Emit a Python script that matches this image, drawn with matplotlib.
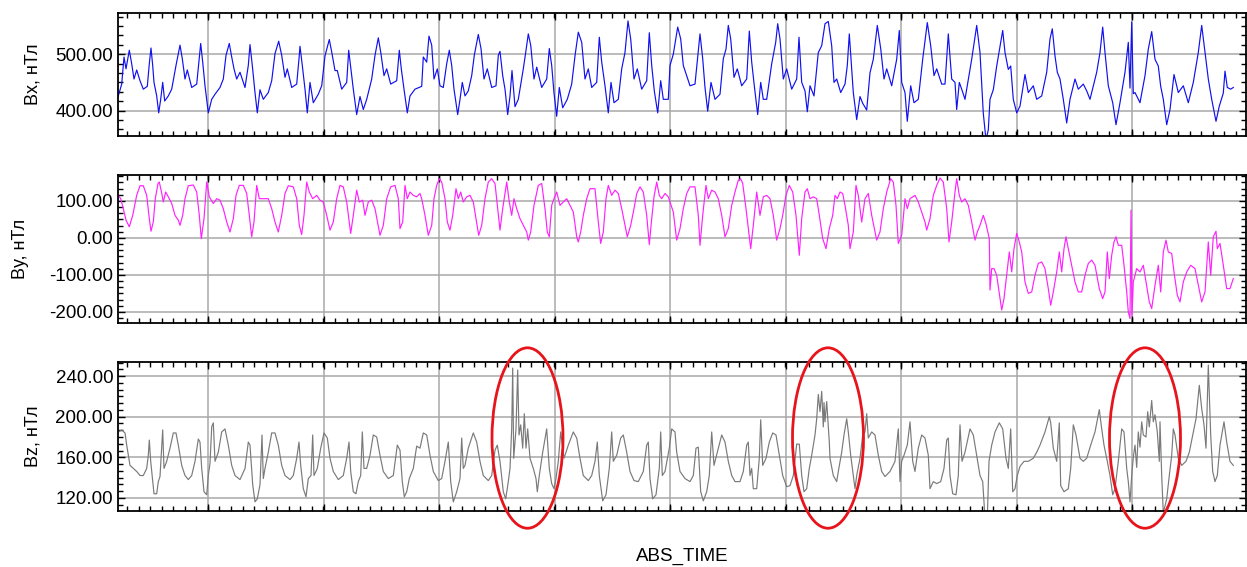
import numpy as np
import matplotlib
matplotlib.use("Agg")
import matplotlib.pyplot as plt
from matplotlib.patches import Ellipse
from matplotlib.ticker import FixedLocator, MultipleLocator, AutoMinorLocator, FormatStrFormatter, NullFormatter

plt.rcParams['font.family'] = ['Liberation Sans', 'DejaVu Sans']
plt.rcParams['axes.unicode_minus'] = False

# ABS_TIME in arbitrary units (no labels on the time axis)
bx_t = [118.3, 121.7, 124, 126, 129.3, 131.7, 134, 136.7, 140, 143.3, 147.3, 149.3, 151, 152.7, 154, 156.7,
        158.7, 160.7, 162.7, 164.7, 168.3, 171.7, 176, 177.7, 180, 182.3, 185, 187.3, 191.7, 196.7, 199,
        200.7, 202.7, 205, 208.3, 211.7, 215, 220, 223.3, 226, 229.3, 231.7, 234, 236.7, 240, 245, 248.3,
        250, 252.3, 255, 257.3, 260, 263.3, 268.3, 271.7, 275, 278.7, 281.7, 285, 287.3, 291.7, 296.7, 299,
        300, 302.3, 305, 307.3, 310, 313.3, 318.3, 321.7, 325, 329.3, 331.7, 335, 337.3, 341.7, 346.7,
        348.7, 350.7, 353.3, 356.7, 360, 363.3, 366.7, 371.7, 375, 378.3, 380.7, 384, 386.7, 390.7, 396.7,
        399.3, 401.3, 404, 407.3, 410, 415, 421.7, 423.3, 426.7, 429, 431.7, 434, 437.3, 440, 443.3,
        446.7, 449.3, 451.7, 454, 457.7, 460, 462.3, 465, 468.3, 471.7, 474.3, 478.3, 481, 484, 487.3,
        491.7, 496, 498.3, 500, 502.7, 505, 507.7, 510, 512, 515, 518.3, 523.3, 525.7, 528.3, 530.7, 534,
        536.7, 541.7, 546.7, 549.3, 551.7, 554, 556.7, 559.3, 562.7, 567.3, 571.7, 575, 578.3, 581.7, 585,
        588.3, 591.7, 596.7, 599.3, 601.7, 605, 608.3, 611, 614, 618.3, 621.7, 625, 628, 630.7, 634,
        637.3, 641.7, 646.7, 649.3, 651.7, 654.3, 657.7, 660.7, 663.3, 668.3, 670, 673.3, 677.7, 680.7,
        683.3, 686.7, 690, 695, 700, 702.7, 705, 707.7, 711, 715, 720, 723.3, 726, 728.3, 730.7, 734,
        737.3, 741.7, 746.7, 749.3, 751.7, 754.3, 757.7, 760.7, 763.3, 766.7, 771.7, 775.7, 777.7, 780,
        783.3, 786.7, 791.7, 796.7, 799, 801.7, 805, 807.3, 810, 814, 818.3, 821.7, 825, 828.3, 831.7,
        834, 836.7, 840.7, 845, 847.3, 849.3, 851.7, 853.3, 856.7, 860, 862.7, 866.7, 870, 873.3, 877.3,
        880.7, 884, 886.7, 891.7, 896.7, 899.3, 901.7, 905, 907.3, 910.7, 914, 918.3, 922.7, 927.3, 930.7,
        934, 936.7, 941.7, 945, 948.3, 951.7, 955, 956.7, 959.3, 961.7, 965, 971.7, 976.7, 980, 983.3,
        986, 988.3, 990, 993.3, 996.7, 1002.7, 1005, 1008.3, 1010.7, 1013.3, 1016.7, 1020, 1025, 1028.3,
        1033.3, 1036.7, 1041.7, 1046.7, 1050, 1052.3, 1055, 1057.3, 1060, 1063.3, 1066.7, 1070, 1075,
        1078.3, 1083.3, 1086.7, 1090, 1096.7, 1100, 1102.7, 1105, 1108.3, 1112.7, 1116, 1120, 1125,
        1128.3, 1130, 1131.7, 1133.3, 1135, 1140, 1145, 1148.3, 1151.7, 1155, 1158.3, 1160.7, 1163.3,
        1166.7, 1170, 1174, 1178.3, 1183.3, 1188.3, 1193.3, 1198.3, 1201.7, 1205, 1208.3, 1211.7, 1216,
        1219.3, 1223.3, 1225, 1227.3, 1230.7, 1233.3]
bx = [426, 447, 495, 474, 507, 483, 456, 472, 453, 438, 443, 483, 511, 480, 450, 426,
      396, 420, 450, 417, 426, 438, 480, 495, 516, 492, 456, 472, 441, 447, 489,
      519, 486, 444, 396, 420, 429, 441, 456, 498, 519, 495, 474, 456, 468, 441, 480,
      517, 480, 432, 396, 437, 420, 432, 453, 501, 523, 498, 459, 474, 441, 447, 492,
      514, 480, 438, 396, 450, 414, 429, 444, 497, 526, 504, 471, 471, 438, 450,
      507, 477, 438, 393, 425, 402, 420, 456, 498, 529, 504, 462, 474, 447, 453,
      507, 474, 438, 396, 426, 438, 443, 495, 486, 532, 516, 456, 474, 444, 441,
      483, 507, 480, 438, 393, 420, 450, 426, 435, 462, 498, 535, 510, 456, 474,
      441, 444, 498, 505, 462, 438, 393, 426, 471, 407, 420, 474, 503, 536, 516, 456,
      477, 441, 456, 510, 480, 431, 390, 441, 405, 420, 447, 497, 539, 521, 456,
      474, 441, 450, 530, 486, 444, 396, 450, 414, 420, 474, 503, 559, 527, 456,
      474, 438, 453, 538, 480, 435, 396, 453, 420, 420, 480, 500, 548, 527,
      480, 462, 444, 447, 536, 492, 441, 399, 450, 420, 429, 492, 509, 551, 527, 459,
      474, 444, 456, 541, 486, 444, 393, 450, 420, 420, 483, 521, 554, 527,
      456, 474, 438, 456, 530, 450, 435, 398, 444, 426, 503, 515, 554, 558, 515,
      450, 456, 432, 447, 480, 536, 474, 432, 384, 425, 413, 401, 467, 491, 551,
      510, 456, 474, 444, 491, 542, 450, 432, 381, 444, 414, 420, 491, 556, 515,
      462, 474, 447, 447, 536, 456, 450, 402, 450, 438, 420, 491, 551, 503, 395,
      348, 366, 420, 437, 479, 542, 503, 473, 479, 420, 396, 408, 464, 432,
      444, 420, 426, 468, 527, 545, 497, 468, 456, 420, 378, 420, 456,
      438, 447, 435, 420, 468, 503, 548, 503, 444, 414, 375, 414, 468,
      521, 440, 557, 430, 432, 414, 462, 509, 540, 491, 479, 443, 420,
      375, 402, 464, 432, 444, 414, 450, 503, 551, 503, 456, 420, 381,
      408, 431, 470, 441, 438, 441]

by_t = [118.3, 120.7, 123.3, 126, 129.3, 132.7, 136.7, 140, 143.3, 146.7, 149.3, 151, 153.3, 155.3, 158,
        159.3, 161.7, 163.3, 165.7, 168.3, 171.7, 175, 178.3, 180, 182.7, 185, 188.3, 193.3, 196.7, 199.3,
        201.3, 204, 206.7, 209.3, 213.3, 216.7, 220, 223.3, 226.7, 230, 233.3, 236, 239.3, 243.3, 246.7,
        249.3, 251.7, 254, 256.7, 259.3, 263.3, 268.3, 271.7, 275, 278.3, 281.7, 285, 288.3, 293.3, 296.7,
        299.3, 301.7, 304, 306.7, 309.3, 312.7, 316.7, 320, 323.3, 326.7, 330, 333.3, 336.7, 340, 343.3,
        346.7, 349.3, 350.7, 353.3, 356.7, 359.3, 362.7, 365, 368.3, 371.7, 375, 380, 383.3, 386.7, 390.7,
        395, 398.3, 400, 402.7, 405, 407.3, 410, 413.3, 416.7, 420, 421.7, 425, 428.3, 431.7, 434, 436.7,
        439.3, 441.7, 445, 447.3, 450, 452.7, 456, 458.3, 460.7, 463.3, 466.7, 470, 473.3, 476, 478.7,
        481.7, 485, 488.3, 491.7, 495, 497.7, 500, 502.7, 506.7, 509.3, 511.7, 514, 516.7, 520, 523.3,
        526.7, 528.3, 530.7, 534, 538.3, 541.7, 545, 547.3, 549.3, 551.7, 554, 556.7, 560, 563.3, 566.7,
        570, 573.3, 576.7, 578.3, 580.7, 583.3, 586.7, 590, 595, 598.3, 600.7, 603.3, 606, 608.3, 611.7,
        615, 618.3, 621.7, 625, 627.3, 630.7, 634, 636.7, 640, 643.3, 646.7, 649.3, 651.7, 654, 656.7,
        659.3, 661.7, 665, 668.3, 670, 673.3, 676.7, 680, 683.3, 686.7, 690, 695, 698.3, 700, 702.7, 706,
        708.3, 711.7, 715, 718.3, 721.7, 725, 728.3, 731.7, 735, 738.3, 740.7, 742.7, 746, 748.3, 750.7,
        753.3, 756.7, 760, 763.3, 766.7, 770, 773.3, 776.7, 780, 782.7, 786, 789.3, 792.7, 796, 799.3,
        801.7, 805, 807.3, 810, 813.3, 816.7, 819.3, 822.7, 826, 829.3, 832.7, 835, 837.3, 840, 842.7,
        845, 848.3, 850, 853.3, 856, 858.3, 861.7, 865, 868.3, 871.7, 876.7, 880, 883.3, 886.7, 890.7,
        893.3, 896, 898.3, 901.7, 905, 907.3, 910, 915, 918.3, 921.7, 925, 926.7, 930, 933.3, 936.7, 940,
        943.3, 946.7, 949, 951.7, 955, 956.7, 959.3, 961.7, 965, 968.3, 971.7, 975, 977.3, 980, 983.3,
        986, 989.3, 990, 991.7, 994, 996.7, 1000, 1001.7, 1004, 1006.7, 1009.3, 1011.7, 1014, 1016.7,
        1019.3, 1021.7, 1025, 1028.3, 1031.7, 1035, 1038.3, 1041.7, 1045, 1048.3, 1050.7, 1053.3, 1056.7,
        1059.3, 1061.7, 1064, 1066, 1068.3, 1071.7, 1075, 1078.3, 1081.7, 1085, 1088.3, 1091.7, 1095,
        1099.3, 1102.7, 1105, 1107.3, 1109.3, 1111.7, 1114, 1116, 1118.3, 1121.7, 1124, 1126.7, 1128.3,
        1130, 1131, 1132, 1133.3, 1136.7, 1140, 1143.3, 1146, 1149.3, 1151.7, 1155, 1158.3, 1160.7,
        1163.3, 1166, 1168.3, 1171.7, 1174, 1177.3, 1180, 1183.3, 1186.7, 1190.7, 1195, 1198.3, 1201.7,
        1205, 1208.3, 1210.7, 1213.3, 1216, 1217.3, 1220, 1223.3, 1226.7, 1230, 1233.3]
by = [115, 106, 79, 48, 30, 61, 115, 141, 141, 115, 52, 18, 43, 106, 147,
      151, 121, 97, 124, 111, 93, 61, 48, 34, 61, 106, 141, 143, 124, 61,
      -2, 52, 151, 111, 93, 106, 102, 79, 43, 16, 52, 115, 142, 142, 120,
      61, 3, 43, 142, 106, 106, 106, 79, 43, 16, 61, 120, 141, 138, 106,
      34, 9, 61, 151, 124, 106, 115, 102, 97, 61, 21, 43, 106, 142, 138,
      97, 43, 12, 61, 129, 97, 102, 61, 97, 102, 79, 7, 34, 106, 138,
      142, 106, 25, 43, 142, 106, 124, 115, 111, 120, 106, 61, 7, 34, 106, 142,
      160, 151, 106, 43, 21, 61, 133, 106, 124, 97, 111, 115, 97, 52, 7,
      34, 106, 151, 160, 147, 79, 21, 79, 151, 97, 61, 106, 79, 52, 34,
      16, -6, 16, 88, 142, 147, 79, 16, 3, 88, 106, 124, 88, 97, 106,
      88, 70, 3, -11, 16, 61, 106, 133, 133, 43, -15, 16, 106, 142, 115,
      129, 120, 79, 34, 3, 34, 79, 120, 138, 124, 61, -18, 52, 111, 151,
      115, 106, 120, 111, 97, 70, -6, 25, 79, 120, 138, 138, 61, -20, 61, 142,
      106, 129, 124, 106, 61, 3, 25, 88, 124, 156, 160, 147, 79, 25, -29,
      34, 124, 61, 111, 115, 106, 61, -6, 25, 61, 115, 142, 124, 61, -47,
      52, 124, 133, 106, 111, 106, 61, -2, -29, 25, 61, 115, 106, 124, 120,
      88, 34, -29, 16, 142, 115, 43, 106, 120, 61, -6, 16, 79, 124, 160,
      151, 88, -15, 7, 106, 79, 106, 115, 97, 70, 43, 21, 52, 115, 142, 162,
      151, 79, -11, 43, 124, 160, 115, 97, 106, 88, 43, -6, 16, 34, 61,
      38, -2, -141, -83, -83, -101, -164, -195, -164, -101, -38, -92, -29, 12,
      -11, -38, -119, -150, -146, -101, -69, -65, -83, -137, -182, -146, -92,
      -38, -92, -29, 3, -29, -74, -119, -146, -146, -101, -69, -60, -74,
      -137, -164, -146, -38, -110, -47, -11, 3, -20, -20, -74, -146, -200,
      -218, 75, -209, -119, -83, -92, -74, -119, -173, -191, -128, -74, -146,
      -38, -6, -38, -42, -92, -155, -173, -119, -92, -74, -83, -128, -173,
      -146, -11, -101, 3, 18, -29, -15, -74, -137, -137, -110]

bz_t = [118.3, 121.7, 125, 126.7, 130, 133.3, 136.7, 140, 143.3, 146.7, 148.3, 149.3, 150.7, 152.7, 154,
        156.7, 158.3, 160, 162.7, 164, 166.7, 170, 173.3, 176, 178.3, 181.7, 185, 188.3, 191.7, 195,
        198.3, 200, 201.7, 204, 206.7, 208.3, 210, 211.7, 213.3, 215, 218.3, 221.7, 225, 228.3, 231.7,
        235, 240, 245, 248.3, 250, 252.7, 255, 257.3, 260, 262, 263.3, 265, 268.3, 271.7, 275, 278.3,
        281.7, 285, 290, 293.3, 296.7, 299, 300.7, 303.3, 306, 308.3, 311, 312.7, 314, 317.3, 320.7,
        324, 327.3, 330, 333.3, 338.3, 343.3, 346.7, 349, 350.7, 353.3, 356, 358.3, 360.7, 362.3, 364,
        366.7, 370, 373.3, 376.7, 380, 383.3, 388.3, 393.3, 397.3, 400, 402.3, 404.3, 406.7, 409.3,
        413.3, 416.7, 420, 423.3, 426.7, 430, 433.3, 438.3, 441.7, 445, 448.3, 450.7, 453.3, 456.7, 460,
        461.7, 463.3, 465, 468.3, 473.3, 476.7, 480, 483.3, 488.3, 491.7, 495, 497.3, 500, 503.3, 505.7,
        508.3, 510, 511.7, 512.7, 513.7, 516, 517.7, 519, 520.7, 522.7, 524.3, 526, 527.7, 530, 533.3,
        536, 537.3, 539.3, 542.7, 546.7, 549.3, 551.7, 554, 556, 558.3, 560.7, 564, 568.3, 573.3, 576.7,
        580, 583.3, 588.3, 591.7, 595, 597.3, 599.3, 602.7, 606, 609.3, 611.7, 613.3, 616.7, 620.7,
        623.3, 626.7, 630, 634, 638.3, 643.3, 646.7, 648.3, 650, 652.7, 656, 659.3, 660.7, 662.3, 665,
        669.3, 671.7, 675, 676.7, 680, 685, 690, 693.3, 696, 698.3, 700.7, 703.3, 706.7, 709.3, 711.7,
        714, 718.3, 721.7, 725, 728.3, 731.7, 735, 740, 743.3, 746.7, 748.3, 750, 751.7, 753.3, 756.7,
        759.3, 760.7, 762.7, 766, 769.3, 772.7, 776, 779.3, 782.7, 786.7, 790, 793.3, 796.7, 799.3,
        801.7, 804, 806.7, 809.3, 811.7, 815, 816.7, 818.3, 820, 821.7, 823.3, 824, 825, 826.7, 829.3,
        830, 833.3, 836.7, 838.3, 841.7, 844, 846.7, 848.3, 850.7, 853.3, 855, 856.7, 860, 862.7, 865,
        866.7, 868.3, 871.7, 875, 878.3, 881.7, 885, 890, 895, 898.3, 900, 901.7, 904, 907.3, 910,
        912.7, 915, 918.3, 921.7, 925, 928.3, 930, 933.3, 936.7, 940.7, 944, 946.7, 948.3, 950, 952.7,
        956, 958.3, 960, 962, 965, 970, 973.3, 976.7, 980, 982.7, 984, 985, 987.3, 989, 991.7, 995,
        999.3, 1002.7, 1006, 1008.3, 1010.7, 1012.7, 1015, 1017.3, 1020, 1024, 1028.3, 1033.3, 1036.7,
        1040, 1045, 1049.3, 1050.7, 1053.3, 1056.7, 1059.3, 1060.7, 1064, 1068.3, 1070.7, 1073.3, 1076,
        1080, 1083.3, 1086.7, 1090.7, 1095, 1099.3, 1101.7, 1104, 1107.3, 1110, 1112.7, 1115, 1118.3,
        1121.7, 1124, 1126.7, 1128.3, 1130, 1131.7, 1133.3, 1135, 1136.7, 1138.3, 1140, 1141.7, 1143.3,
        1146, 1147.7, 1149.3, 1151.7, 1153.3, 1155, 1157.3, 1159.3, 1160, 1161.7, 1163.3, 1166.7,
        1169.3, 1171.7, 1173.3, 1175, 1178.3, 1181.7, 1186, 1189.3, 1192.7, 1196, 1199.3, 1201.7, 1204,
        1206, 1208.3, 1210.7, 1212.7, 1215, 1217.3, 1220, 1224, 1226.7, 1230, 1233.3]
bz = [185, 187, 184, 172, 152, 149, 146, 142, 142, 149, 162, 177, 156, 136, 124,
      124, 136, 141, 187, 149, 156, 169, 184, 184, 172, 152, 142, 138, 142, 156,
      178, 175, 149, 126, 123, 142, 154, 190, 194, 156, 165, 185, 188, 172, 152,
      142, 138, 149, 175, 172, 133, 116, 119, 133, 182, 139, 149, 165, 184, 184, 172,
      152, 142, 138, 142, 159, 175, 152, 129, 121, 139, 142, 182, 142, 149, 169,
      184, 179, 159, 146, 138, 142, 159, 175, 146, 126, 124, 136, 142, 185, 149,
      149, 162, 182, 180, 162, 146, 139, 142, 172, 167, 136, 121, 126, 139,
      149, 171, 169, 184, 182, 162, 146, 137, 139, 156, 175, 136, 116, 126, 139,
      179, 149, 152, 169, 184, 175, 156, 142, 137, 142, 167, 172, 156, 126, 119,
      136, 149, 188, 248, 159, 188, 246, 182, 192, 169, 203, 169, 188, 159, 149,
      139, 126, 142, 165, 188, 149, 134, 129, 139, 156, 185, 159, 172, 185, 179,
      159, 142, 137, 142, 156, 175, 142, 117, 123, 149, 185, 156, 162, 179,
      182, 165, 146, 137, 136, 146, 172, 175, 139, 119, 123, 149, 185, 142, 146,
      169, 188, 185, 165, 146, 139, 136, 142, 169, 170, 126, 117, 126, 142, 185,
      152, 169, 182, 175, 156, 142, 136, 136, 146, 172, 175, 142, 149, 129, 129,
      159, 197, 152, 159, 175, 184, 182, 162, 142, 131, 132, 142, 173, 173,
      142, 126, 129, 149, 162, 182, 198, 222, 205, 225, 190, 214, 195, 215, 175,
      159, 142, 136, 146, 165, 182, 198, 185, 162, 142, 129, 142, 159, 182, 185,
      203, 179, 185, 182, 162, 146, 141, 146, 156, 188, 136, 156, 162, 172, 195,
      156, 146, 169, 182, 179, 162, 129, 136, 134, 136, 149, 177, 179, 142, 124,
      123, 142, 192, 156, 165, 188, 182, 162, 142, 136, 116, 100, 100, 156, 172, 185,
      194, 188, 159, 149, 188, 126, 129, 142, 151, 156, 156, 159, 165,
      172, 185, 200, 194, 169, 156, 194, 132, 126, 129, 149, 192, 182,
      159, 156, 159, 172, 185, 207, 188, 172, 156, 142, 123, 129, 156,
      188, 185, 149, 136, 116, 142, 160, 172, 150, 185, 170, 195, 182,
      180, 205, 190, 216, 195, 202, 185, 156, 195, 142, 105, 119,
      142, 162, 188, 182, 159, 152, 156, 165, 182, 198, 231, 208, 192,
      169, 251, 182, 146, 136, 142, 172, 195, 175, 156, 152]

# annotation ellipses on the Bz panel: (centre time, centre value)
ring_t = [527.5, 828, 1145]
ring_v = [179, 179, 179]

grid_t = np.arange(208, 1140, 115.5)

fig = plt.figure(figsize=(12.47, 5.67), dpi=100)
W, H = 1247, 567


def add_panel(top, bottom):
    return fig.add_axes([118 / W, 1 - bottom / H, 1128 / W, (bottom - top) / H])


ax1 = add_panel(13, 136)
ax2 = add_panel(175, 323)
ax3 = add_panel(362, 511)

ax1.plot(bx_t, bx, color='#1010f0', lw=0.85)
ax2.plot(by_t, by, color='#ff22ff', lw=0.85)
ax3.plot(bz_t, bz, color='#7a7a7a', lw=0.85)

setup = [
    (ax1, (355, 573), [400, 500], 'Bx, нТл', -0.068),
    (ax2, (-230, 170), [-200, -100, 0, 100], 'By, нТл', -0.079),
    (ax3, (107, 254), [120, 160, 200, 240], 'Bz, нТл', -0.068),
]
for ax, ylim, yt, lab, lx in setup:
    ax.set_xlim(118, 1246)
    ax.set_ylim(*ylim)
    ax.xaxis.set_major_locator(FixedLocator(grid_t))
    ax.xaxis.set_minor_locator(MultipleLocator(11.55))
    ax.xaxis.set_major_formatter(NullFormatter())
    ax.yaxis.set_major_locator(FixedLocator(yt))
    ax.yaxis.set_minor_locator(AutoMinorLocator(6))
    ax.yaxis.set_major_formatter(FormatStrFormatter('%.2f'))
    ax.tick_params(which='both', direction='in', top=True, right=True, width=1.0, labelsize=13.5)
    ax.tick_params(which='major', length=5)
    ax.tick_params(which='minor', length=3.5)
    ax.grid(True, which='major', color='#a8a8a8', lw=1.1)
    for s in ax.spines.values():
        s.set_linewidth(1.3)
    ax.set_ylabel(lab, fontsize=13)
    ax.yaxis.set_label_coords(lx, 0.5)

for ct, cv in zip(ring_t, ring_v):
    ax3.add_patch(Ellipse((ct, cv), 71, 178, fill=False, edgecolor='#e8141b',
                          lw=2.0, clip_on=False, zorder=5))

fig.text(682 / W, 1 - 556 / H, 'ABS_TIME', ha='center', va='center', fontsize=13.5)

fig.savefig('out.png', dpi=100)
